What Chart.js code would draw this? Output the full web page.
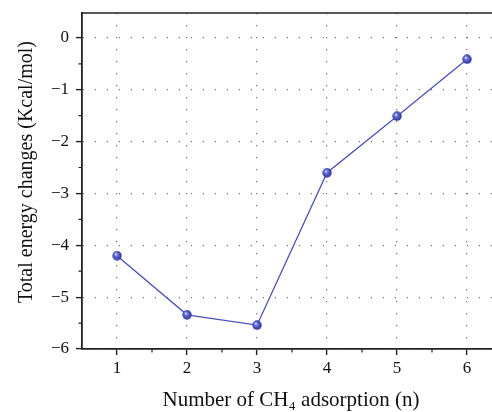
<!DOCTYPE html>
<html>
<head>
<meta charset="utf-8">
<script src="https://cdn.jsdelivr.net/npm/chart.js@4/dist/chart.umd.min.js"></script>
<style>
html,body{margin:0;padding:0;background:#fff;}
#wrap{width:492px;height:412px;position:relative;}
</style>
</head>
<body>
<div id="wrap"><canvas id="c" width="492" height="412"></canvas></div>
<script>
const adsorptionCounts = [1, 2, 3, 4, 5, 6];
const energyChanges = [-4.20, -5.34, -5.54, -2.60, -1.51, -0.41];
const xTickValues = [1, 2, 3, 4, 5, 6];
const yTickValues = [-6, -5, -4, -3, -2, -1, 0];
const xMinorTicks = [1.5, 2.5, 3.5, 4.5, 5.5];
const yMinorTicks = [-5.5, -4.5, -3.5, -2.5, -1.5, -0.5];
const xTitle = 'Number of CH\u2084 adsorption (n)';
const yTitle = 'Total energy changes (Kcal/mol)';

const FONT = "'Liberation Serif', 'DejaVu Serif', serif";
const AXIS = '#222';
const LINE = '#4a51b6';

function makeBall() {
  const s = 10;
  const cv = document.createElement('canvas');
  cv.width = s; cv.height = s;
  const g = cv.getContext('2d');
  const grad = g.createRadialGradient(3.6, 3.4, 0.3, 5, 5, 5);
  grad.addColorStop(0, '#e6e8ff');
  grad.addColorStop(0.3, '#6c72d6');
  grad.addColorStop(0.75, '#3d43ad');
  grad.addColorStop(1, '#2a2f8c');
  g.fillStyle = grad;
  g.beginPath(); g.arc(5, 5, 4.7, 0, Math.PI * 2); g.fill();
  return cv;
}

const frame = {
  id: 'frame',
  afterDraw(chart) {
    const ctx = chart.ctx, a = chart.chartArea;
    const xs = chart.scales.x, ys = chart.scales.y;
    ctx.save();
    ctx.strokeStyle = AXIS;
    ctx.lineWidth = 1.6;
    ctx.beginPath();
    ctx.moveTo(a.left - 0.8, a.top); ctx.lineTo(a.right, a.top);
    ctx.stroke();
    ctx.lineWidth = 1.2;
    ctx.beginPath();
    xMinorTicks.forEach(v => {
      const px = xs.getPixelForValue(v);
      ctx.moveTo(px, a.bottom); ctx.lineTo(px, a.bottom + 3.5);
    });
    yMinorTicks.forEach(v => {
      const py = ys.getPixelForValue(v);
      ctx.moveTo(a.left, py); ctx.lineTo(a.left - 3.5, py);
    });
    ctx.stroke();

    // axis titles
    ctx.fillStyle = '#111';
    ctx.textAlign = 'center';
    ctx.textBaseline = 'alphabetic';
    ctx.font = '21px ' + FONT;
    ctx.fillText(xTitle, (a.left + a.right) / 2 + 4, 406);
    ctx.save();
    ctx.translate(32, (a.top + a.bottom) / 2 - 9);
    ctx.rotate(-Math.PI / 2);
    ctx.font = '20px ' + FONT;
    ctx.fillText(yTitle, 0, 0);
    ctx.restore();
    ctx.restore();
  }
};

new Chart(document.getElementById('c'), {
  type: 'line',
  data: {
    datasets: [{
      data: adsorptionCounts.map((x, i) => ({x: x, y: energyChanges[i]})),
      borderColor: LINE,
      borderWidth: 1.3,
      pointStyle: makeBall(),
      pointRadius: 5,
      tension: 0,
      fill: false,
      clip: false
    }]
  },
  plugins: [frame],
  options: {
    responsive: false,
    animation: false,
    events: [],
    layout: {autoPadding: false, padding: {top: 13, right: 0, bottom: 0, left: 0}},
    plugins: {legend: {display: false}, tooltip: {enabled: false}},
    scales: {
      x: {
        type: 'linear',
        min: 0.5,
        max: 6.357,
        afterBuildTicks: s => { s.ticks = xTickValues.map(v => ({value: v})); },
        afterFit: s => { s.height = 63; s.paddingLeft = 0; s.paddingRight = 0; },
        ticks: {
          font: {family: FONT, size: 17},
          color: '#111',
          padding: 3,
          maxRotation: 0,
          callback: v => String(v)
        },
        grid: {
          color: '#777',
          lineWidth: 1.2,
          tickLength: 6,
          tickColor: AXIS,
          tickWidth: 1.4,
          tickBorderDash: []
        },
        border: {display: true, color: AXIS, width: 1.8, dash: [1.2, 10.8]},
        title: {display: false}
      },
      y: {
        type: 'linear',
        min: -6,
        max: 0.48,
        afterBuildTicks: s => { s.ticks = yTickValues.map(v => ({value: v})); },
        afterFit: s => { s.width = 82; s.paddingTop = 0; s.paddingBottom = 0; },
        ticks: {
          font: {family: FONT, size: 17},
          color: '#111',
          padding: 7,
          callback: v => (v < 0 ? '\u2212' + Math.abs(v) : String(v))
        },
        grid: {
          color: '#777',
          lineWidth: 1.2,
          tickLength: 6,
          tickColor: AXIS,
          tickWidth: 1.4,
          tickBorderDash: []
        },
        border: {display: true, color: AXIS, width: 1.8, dash: [1.2, 10.8]},
        title: {display: false}
      }
    }
  }
});
</script>
</body>
</html>
